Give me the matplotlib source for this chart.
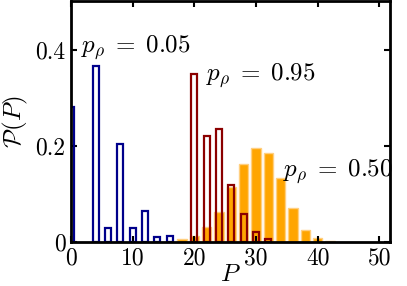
import matplotlib
matplotlib.use('Agg')
import matplotlib.pyplot as plt
import numpy as np

plt.rcParams['mathtext.fontset'] = 'cm'
plt.rcParams['font.family'] = 'serif'
plt.rcParams['font.serif'] = ['cmr10']
plt.rcParams['axes.formatter.use_mathtext'] = True

### data ###
pos_05 = [0, 4, 6, 8, 10, 12, 14, 16]
val_05 = [0.28, 0.365, 0.029, 0.203, 0.029, 0.064, 0.011, 0.013]

pos_95 = [20, 22, 24, 26, 28, 30, 32]
val_95 = [0.349, 0.22, 0.234, 0.118, 0.058, 0.020, 0.006]

pos_50 = [18, 20, 22, 24, 26, 28, 30, 32, 34, 36, 38, 40, 42]
val_50 = [0.006, 0.013, 0.032, 0.063, 0.115, 0.163, 0.196, 0.185, 0.133, 0.07, 0.026, 0.008, 0.002]

x_ticks = [0, 10, 20, 30, 40, 50]
y_ticks = [0, 0.2, 0.4]
y_tick_labels = ['0', '0.2', '0.4']

fig = plt.figure(figsize=(4.07, 2.86), dpi=100)
ax = fig.add_axes([0.1744, 0.1538, 0.7836, 0.841])

ax.bar(pos_50, val_50, width=1.5, color='orange', edgecolor='#ffcf80', linewidth=1, zorder=1)
ax.bar(pos_95, val_95, width=1.0, facecolor='none', edgecolor='#8b0000', linewidth=1.6, zorder=2)
ax.bar(pos_05, val_05, width=1.0, facecolor='none', edgecolor='#00008b', linewidth=1.6, zorder=2)

ax.text(1.7, 0.394, r'$p_\rho\;=\;0.05$', fontsize=18)
ax.text(21.9, 0.336, r'$p_\rho\;=\;0.95$', fontsize=18)
ax.text(34.3, 0.137, r'$p_\rho\;=\;0.50$', fontsize=18)

ax.set_xlim(0, 51.7)
ax.set_ylim(0, 0.5)
ax.set_xticks(x_ticks)
ax.set_xticklabels([str(t) for t in x_ticks])
ax.set_yticks(y_ticks)
ax.set_yticklabels(y_tick_labels)
ax.tick_params(direction='in', top=True, right=True, length=4, width=1.5, labelsize=17, pad=4)
for s in ax.spines.values():
    s.set_linewidth(2)
ax.set_xlabel(r'$P$', fontsize=18, labelpad=-4)
ax.set_ylabel(r'$\mathcal{P}(P)$', fontsize=18, labelpad=4)

fig.savefig('out.png', dpi=100)
